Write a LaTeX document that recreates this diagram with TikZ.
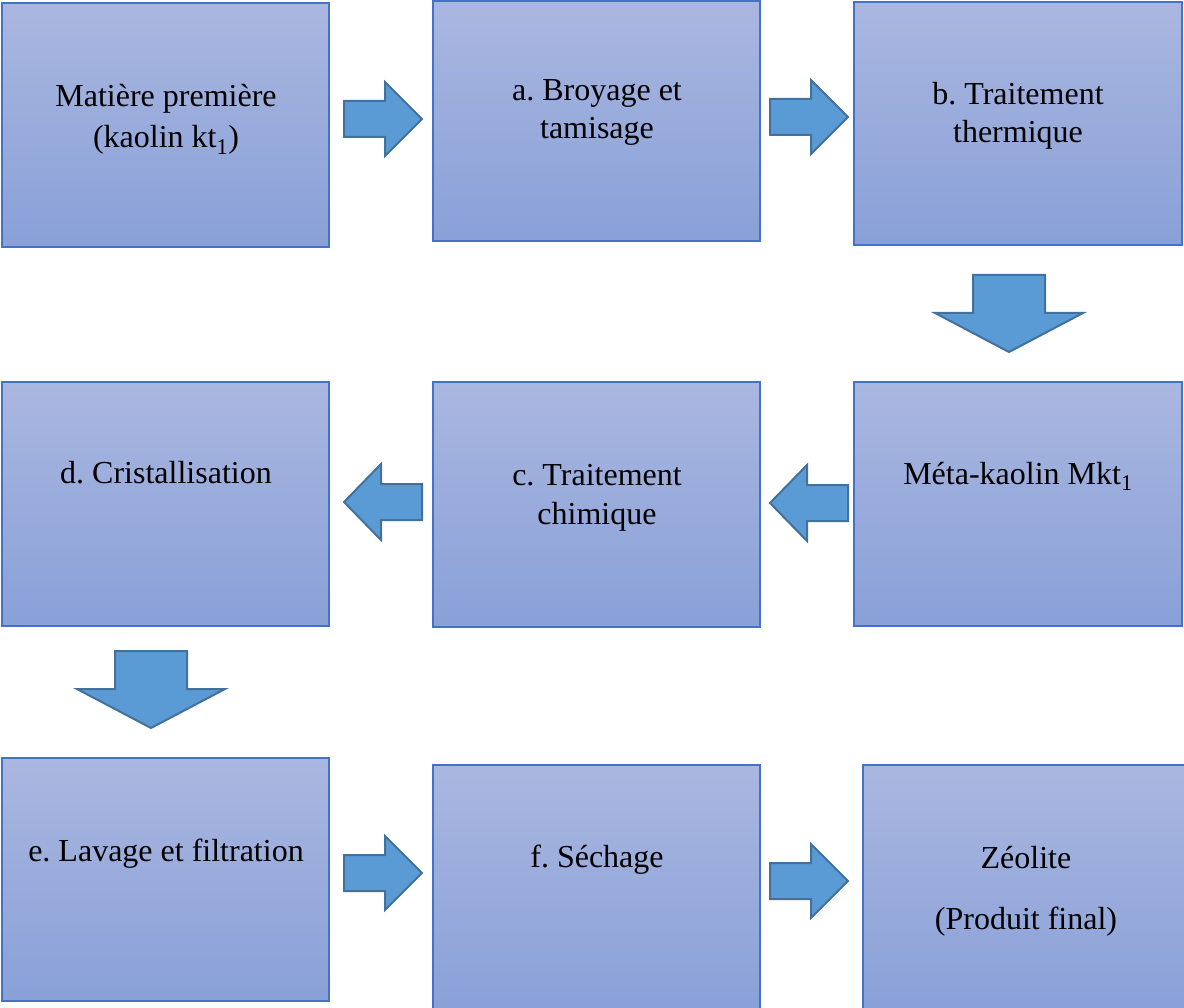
\documentclass[tikz,border=0pt]{standalone}
\usepackage{fontspec}
\setmainfont{Liberation Serif}
\frenchspacing
\definecolor{boxtop}{RGB}{170,183,224}
\definecolor{boxbot}{RGB}{137,160,216}
\definecolor{boxline}{RGB}{68,114,196}
\definecolor{arrfill}{RGB}{91,155,213}
\definecolor{arrline}{RGB}{65,113,156}
\tikzset{
  stepbox/.style={draw=boxline, line width=1.2pt, top color=boxtop, bottom color=boxbot},
  lbl/.style={anchor=base, font=\fontsize{32}{38}\selectfont, text=black, inner sep=0pt},
  blockarrow/.style={draw=arrline, fill=arrfill, line width=2pt, line join=miter},
  pics/rarr/.style={code={\draw[blockarrow] (0,-18) -- (41,-18) -- (41,-37) -- (78,0) -- (41,37) -- (41,18) -- (0,18) -- cycle;}},
  pics/larr/.style={code={\draw[blockarrow] (0,0) -- (37,-38) -- (37,-18) -- (78,-18) -- (78,18) -- (37,18) -- (37,38) -- cycle;}},
  pics/darr/.style={code={\draw[blockarrow] (-36,0) -- (36,0) -- (36,38) -- (74,38) -- (0,77) -- (-74,38) -- (-36,38) -- cycle;}}
}
\begin{document}
\begin{tikzpicture}[x=1pt,y=-1pt]
\useasboundingbox (0,0) rectangle (1184,1008);
\clip (0,0) rectangle (1184,1008);
% boxes
\path[stepbox] (2,3) rectangle (329,247);
\path[stepbox] (433,1) rectangle (760,241);
\path[stepbox] (854,2) rectangle (1182,245);
\path[stepbox] (2,382) rectangle (329,626);
\path[stepbox] (433,382) rectangle (760,627);
\path[stepbox] (854,382) rectangle (1182,626);
\path[stepbox] (2,758) rectangle (329,1001);
\path[stepbox] (433,765) rectangle (760,1012);
\path[stepbox] (863,765) rectangle (1190,1012);
% texts
\node[lbl] (tm1) at (166,107) {Matière première};
\node[lbl] (tm2) at (166,148) {(kaolin kt\textsubscript{1})};
\node[lbl] (ta1) at (597,101) {a. Broyage et};
\node[lbl] (ta2) at (597,139) {tamisage};
\node[lbl] (tb1) at (1018,105) {b. Traitement};
\node[lbl] (tb2) at (1018,143) {thermique};
\node[lbl] (td) at (166,483) {d. Cristallisation};
\node[lbl] (tc1) at (597,485) {c. Traitement};
\node[lbl] (tc2) at (597,524) {chimique};
\node[lbl] (tk) at (1018,484) {Méta-kaolin Mkt\textsubscript{1}};
\node[lbl] (te) at (166,861) {e. Lavage et filtration};
\node[lbl] (tf) at (597,867) {f. Séchage};
\node[lbl] (tz1) at (1026,868) {Zéolite};
\node[lbl] (tz2) at (1026,929) {(Produit final)};
% arrows
\pic at (344,119) {rarr};
\pic at (770,117) {rarr};
\pic at (1009,275) {darr};
\pic at (770,503) {larr};
\pic at (344,502) {larr};
\pic at (151,651) {darr};
\pic at (344,873) {rarr};
\pic at (770,881) {rarr};
\end{tikzpicture}
\end{document}
